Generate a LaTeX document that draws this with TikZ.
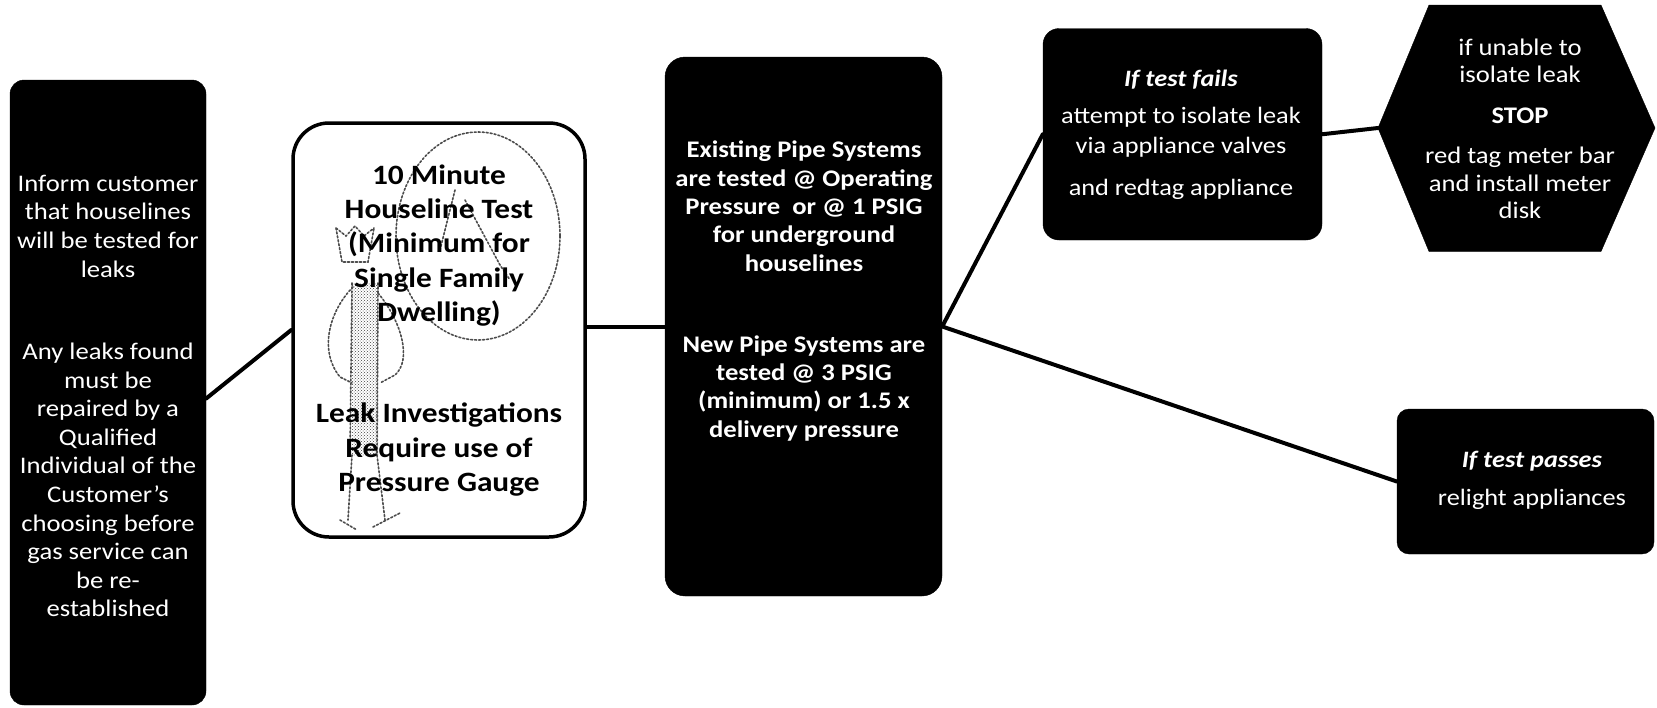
\documentclass[tikz,border=0pt]{standalone}
\usepackage{fontspec}
\setmainfont{Carlito}[FakeStretch=1.12]
\usetikzlibrary{calc,patterns}

\begin{document}
\begin{tikzpicture}[x=1pt,y=-1pt,
  blackbox/.style={draw=black,fill=black,rounded corners=#1,inner sep=0pt},
  blackbox/.default=14pt,
  whitebox/.style={draw=black,fill=white,line width=3.5pt,rounded corners=36pt,inner sep=0pt},
  conn/.style={line width=4pt,line cap=round},
  wtext/.style={text=white,align=center,inner sep=0pt},
  btext/.style={text=black,align=center,inner sep=0pt},
  sketch/.style={draw=black!70,line width=1.6pt,dash pattern=on 2pt off 2pt,line cap=round}]

\useasboundingbox (0,0) rectangle (1657,707);

% ---- boxes ----
\node[blackbox=14pt,minimum width=196pt,minimum height=625pt] (b1) at (108,392.5) {};
\node[whitebox,minimum width=292pt,minimum height=414pt] (b2) at (439,330) {};
\node[blackbox=20pt,minimum width=277pt,minimum height=539pt] (b3) at (803.5,326.5) {};
\node[blackbox=16pt,minimum width=279pt,minimum height=211.5pt] (b4) at (1182.5,134.25) {};
\node[blackbox=12pt,minimum width=257pt,minimum height=145pt] (b5) at (1525.5,481.5) {};

% hexagon
\draw[fill=black] (1378,128) -- (1429,5) -- (1601,5) -- (1655,128)
  -- (1601,251.5) -- (1429,251.5) -- cycle;
\coordinate (hexW) at (1378,128);

% ---- dotted sketch of an inspector with a magnifier ----
\draw[sketch] (478,236) ellipse [x radius=82, y radius=104];
\draw[sketch] (455,190) -- (440,250) (465,200) -- (500,265) -- (510,280);
\draw[sketch] (336,228) -- (342,262) -- (368,262) -- (374,228)
  (336,228) -- (346,236) -- (355,226) -- (364,236) -- (374,228);
\fill[pattern=crosshatch dots,pattern color=black!75] (352,283) rectangle (378,455);
\draw[sketch] (352,283) -- (350,455) (378,283) -- (377,455);
\draw[sketch] (353,287) .. controls (330,310) and (318,350) .. (340,377) -- (352,383);
\draw[sketch] (378,293) .. controls (402,322) and (412,360) .. (395,375) -- (380,383);
\draw[sketch] (352,455) -- (348,520) (377,455) -- (385,520);
\draw[sketch] (340,520) -- (357,530) (373,527) -- (400,513);

% ---- texts ----
\node[wtext,font=\fontsize{23.8}{28.6}\selectfont] (t1) at (108,396) {%
Inform customer\\that houselines\\will be tested for\\leaks\\[53.8pt]%
Any leaks found\\must be\\repaired by a\\Qualified\\Individual of the\\Customer's\\%
choosing before\\gas service can\\be re-\\established};

\node[btext,font=\bfseries\fontsize{28}{34.35}\selectfont] (t2) at (439,330.3) {%
10 Minute\\Houseline Test\\(Minimum for\\Single Family\\Dwelling)\\[67pt]%
Leak Investigations\\Require use of\\Pressure Gauge};

\node[wtext,font=\bfseries\fontsize{23.8}{28.3}\selectfont] (t3) at (804,291) {%
Existing Pipe Systems\\are tested @ Operating\\Pressure\ \ or @ 1 PSIG\\for underground\\houselines\\[53pt]%
New Pipe Systems are\\tested @ 3 PSIG\\(minimum) or 1.5 x\\delivery pressure};

\node[wtext,font=\fontsize{23.5}{30}\selectfont] (t4) at (1181,134.5) {%
\textbf{\textit{If test fails}}\\[7pt]attempt to isolate leak\\via appliance valves\\[12pt]and redtag appliance};

\node[wtext,font=\fontsize{23.8}{27.5}\selectfont] (thex) at (1520,128.75) {%
if unable to\\isolate leak\\[13.5pt]\textbf{STOP}\\[12.5pt]red tag meter bar\\and install meter\\disk};

\node[wtext,font=\fontsize{23.5}{30}\selectfont] (t5) at (1532,480) {%
\textbf{\textit{If test passes}}\\[8pt]relight appliances};

% ---- connectors ----
\draw[conn] ($(b1.east)+(0,6)$) -- (b2.west);
\draw[conn] (b3.west -| b2.east) -- (b3.west);
\draw[conn] (b4.west) -- (b3.east) -- (b5.west);
\draw[conn] (b4.east) -- (hexW);

\end{tikzpicture}
\end{document}
